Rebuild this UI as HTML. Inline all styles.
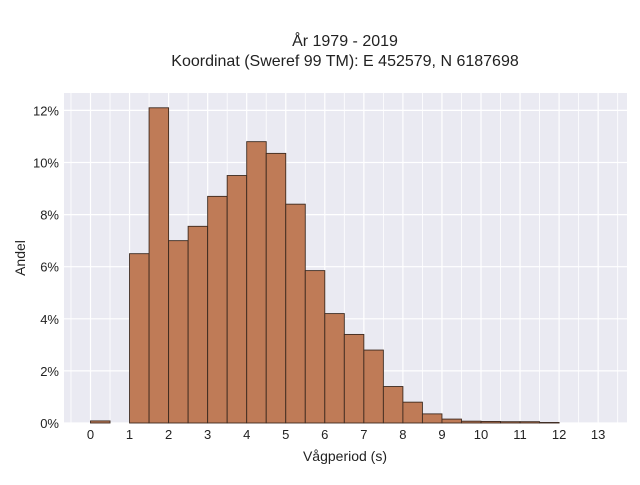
<!DOCTYPE html>
<html><head><meta charset="utf-8"><style>
body{margin:0;background:#fff;font-family:"Liberation Sans",sans-serif;}
</style></head><body>
<svg id="chart" width="640" height="480" xmlns="http://www.w3.org/2000/svg" font-family="Liberation Sans, sans-serif">
<text x="345" y="46" text-anchor="middle" font-size="16" fill="#222">År 1979 - 2019</text>
<text x="345" y="66" text-anchor="middle" font-size="16" fill="#222">Koordinat (Sweref 99 TM): E 452579, N 6187698</text>
<rect x="64" y="93" width="563" height="330" fill="#eaeaf2"/>
<g id="grid"></g><g id="bars"></g><g id="xt"></g><g id="yt"></g>
<text x="345" y="461" text-anchor="middle" font-size="14" fill="#222">Vågperiod (s)</text>
<text x="25" y="258" text-anchor="middle" font-size="14" fill="#222" transform="rotate(-90 25 258)">Andel</text>
</svg>
<script>
const binStarts=[0,0.5,1,1.5,2,2.5,3,3.5,4,4.5,5,5.5,6,6.5,7,7.5,8,8.5,9,9.5,10,10.5,11,11.5,12,12.5,13];
const shares=[0.08,0,6.5,12.1,7.0,7.55,8.7,9.5,10.8,10.35,8.4,5.85,4.2,3.4,2.8,1.4,0.8,0.35,0.15,0.07,0.06,0.05,0.05,0.02,0,0,0];
const xTicks=[0,1,2,3,4,5,6,7,8,9,10,11,12,13];
const yTicks=[0,2,4,6,8,10,12];
const binWidth=0.5;
const NS="http://www.w3.org/2000/svg";
const X=v=>90.5+v*39.05;
const Y=v=>423-v*26.05;
function mk(tag,attrs,parent){const e=document.createElementNS(NS,tag);for(const k in attrs)e.setAttribute(k,attrs[k]);document.getElementById(parent).appendChild(e);return e;}
for(let g=-0.5;g<=13.5;g+=0.5){
 const l=mk('line',{x1:X(g),x2:X(g),y1:93,y2:423,stroke:'#fff','stroke-width':g%1===0?1.2:0.8},'grid');
 
 
}
yTicks.forEach(t=>{
 const l=mk('line',{x1:64,x2:627,y1:Y(t),y2:Y(t),stroke:'#fff','stroke-width':1.2},'grid');
 
 
 const tx=mk('text',{x:59,y:Y(t)+5,'text-anchor':'end','font-size':13,fill:'#222'},'yt');
 tx.textContent=t+'%';
 
 
});
xTicks.forEach(t=>{
 const tx=mk('text',{x:X(t),y:439,'text-anchor':'middle','font-size':13,fill:'#222'},'xt');
 tx.textContent=t;
 
 
});
binStarts.forEach((s,i)=>{
 const v=shares[i]; if(v<=0)return;
 const r=mk('rect',{x:X(s),y:Y(v),width:X(s+binWidth)-X(s),height:Y(0)-Y(v),fill:'#bf7b57',stroke:'#3d2a1f','stroke-width':0.9},'bars');
 
 
});
</script>
</body></html>
